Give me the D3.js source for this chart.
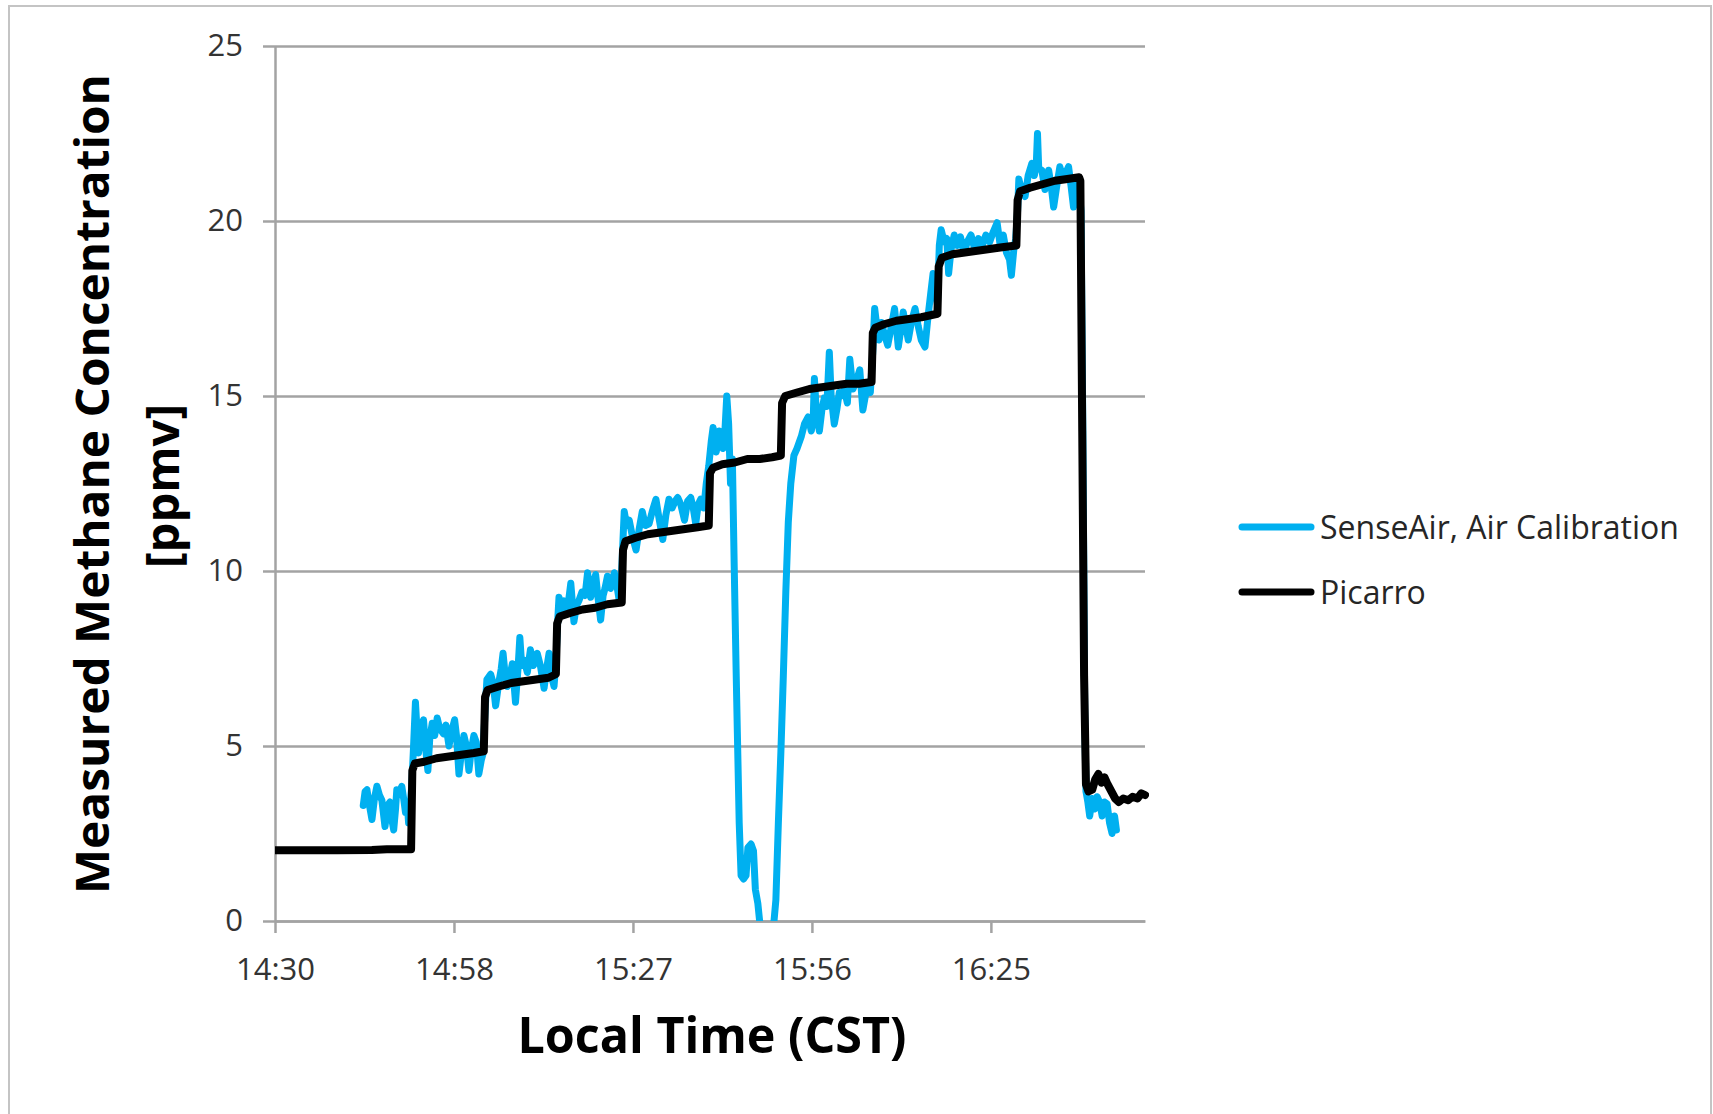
<!DOCTYPE html>
<html>
<head>
<meta charset="utf-8">
<script src="https://cdn.jsdelivr.net/npm/d3@7"></script>
<style>
  html, body { margin: 0; padding: 0; background: #ffffff; }
  svg { display: block; }
  text { font-family: "Open Sans", "Noto Sans", sans-serif; }
</style>
</head>
<body>
<svg id="chart" width="1713" height="1114"></svg>
<script>
// Methane step-calibration run, minutes after 14:30 CST and ppmv readings.
const startTime = new Date(2015, 0, 1, 14, 30, 0);
const endMinutes = 140;

const yTicks = [0, 5, 10, 15, 20, 25];
const xTickMinutes = [0, 28.8, 57.6, 86.4, 115.2];   // 0.02 day major unit

const seriesNames = ["SenseAir, Air Calibration", "Picarro"];
const seriesColors = ["#00b0f0", "#000000"];

// SenseAir sensor (air calibration)
const senseAirMin = [
  14.2, 14.5, 14.8, 15.2, 15.6, 16.0, 16.4, 16.8, 17.2, 17.7, 18.1, 18.5, 18.8, 19.1, 19.4, 19.6, 20.0, 20.4, 20.7, 21.0, 21.3, 21.5, 21.8, 22.0,
  22.3, 22.6, 22.9, 23.1, 23.5, 23.9, 24.2, 24.6, 24.9, 25.3, 25.7, 26.1, 26.5, 27.1, 27.5, 28.0, 28.4, 28.9, 29.2, 29.6, 30.0, 30.4, 30.8, 31.2, 31.6, 32.0, 32.4, 32.8, 33.2, 33.5,
  33.8, 34.1, 34.7, 35.1, 35.5, 36.0, 36.4, 36.7, 37.0, 37.4, 37.8, 38.2, 38.7, 39.1, 39.4, 39.7, 40.1, 40.6, 41.1, 41.6, 42.2, 42.7, 43.3, 43.7, 44.1, 44.5, 44.9, 45.2,
  45.5, 45.7, 46.1, 46.5, 47.0, 47.6, 48.1, 48.5, 48.9, 49.4, 49.9, 50.3, 50.8, 51.2, 51.6, 52.0, 52.4, 52.8, 53.1, 53.5, 54.0, 54.6, 55.0, 55.4, 55.7,
  56.0, 56.2, 56.6, 57.0, 57.5, 58.1, 58.6, 59.1, 59.6, 60.2, 60.7, 61.3, 61.8, 62.4, 62.9, 63.4, 63.9, 64.4, 64.8, 65.3, 65.9, 66.4, 66.9, 67.3, 67.7, 68.1, 68.5, 69.0, 69.4,
  69.8, 70.2, 70.5, 70.8, 71.0, 71.3, 71.5, 71.8, 72.1, 72.4, 72.7, 73.0, 73.3, 73.6, 73.9, 74.2, 74.4, 74.7, 75.0, 75.4, 75.8, 76.1, 76.6, 77.0, 77.3, 77.7, 78.1, 78.6, 79.4, 80.2, 80.6, 81.0, 81.4, 81.8, 82.2, 82.6, 83.0, 83.5,
  84.0, 84.7, 85.2, 85.8, 86.3, 86.6, 86.8, 87.1, 87.6, 88.0, 88.4, 88.8, 89.2, 89.5, 90.0, 90.4, 90.8, 91.1, 91.6, 92.1, 92.5, 93.0, 93.5, 94.1, 94.6, 95.0, 95.4, 95.8,
  96.2, 96.5, 96.9, 97.2, 97.6, 98.0, 98.6, 99.2, 99.7, 100.3, 100.7, 101.1, 101.5, 101.9, 102.4, 103.0, 103.5, 104.0, 104.6, 105.1, 105.5, 105.9, 106.3, 106.6,
  106.9, 107.2, 107.7, 108.1, 108.4, 108.8, 109.3, 109.8, 110.3, 110.9, 111.4, 112.0, 112.6, 113.2, 113.8, 114.4, 115.0, 115.6, 116.2, 116.7, 117.2, 117.7, 118.2, 118.5, 118.9, 119.2,
  119.5, 119.7, 120.1, 120.7, 121.2, 121.8, 122.2, 122.5, 122.7, 122.9, 123.4, 123.9, 124.5, 124.9, 125.3, 125.8, 126.3, 126.8, 127.2, 127.7, 128.1, 128.5, 129.0, 129.4,
  129.7, 130.0, 130.3, 130.5, 130.8, 131.1, 131.5, 131.9, 132.3, 132.7, 133.1, 133.5, 133.9, 134.3, 134.7, 135.1, 135.4
];
const senseAirPpm = [
  3.3, 3.7, 3.75, 3.3, 2.9, 3.5, 3.85, 3.6, 3.45, 2.7, 3.3, 3.4, 2.9, 2.6, 3.2, 3.75, 3.6, 3.85, 3.5, 3.1, 3.3, 2.8, 3.4, 3.85,
  5.0, 6.25, 5.3, 4.8, 5.5, 5.75, 5.0, 4.3, 5.2, 5.65, 5.3, 5.8, 5.5, 5.35, 5.6, 5.0, 5.4, 5.75, 5.3, 4.2, 4.8, 5.3, 5.0, 4.3, 4.9, 5.3, 5.1, 4.2, 4.6, 4.8,
  6.0, 6.9, 7.05, 6.8, 6.15, 6.8, 7.2, 7.65, 7.1, 6.7, 7.0, 7.35, 6.25, 7.2, 8.1, 7.3, 7.45, 7.1, 7.75, 7.3, 7.65, 7.3, 6.65, 7.2, 7.65, 7.0, 6.7, 7.4,
  8.6, 9.25, 8.9, 9.15, 8.8, 9.65, 8.55, 9.0, 9.15, 9.4, 9.3, 9.95, 9.25, 9.6, 9.9, 9.2, 8.6, 9.3, 9.5, 9.85, 9.5, 9.95, 9.6, 9.15, 9.6,
  10.9, 11.7, 11.3, 11.45, 11.0, 10.6, 11.2, 11.7, 11.3, 11.35, 11.7, 12.05, 11.5, 10.9, 11.6, 12.05, 11.8, 12.0, 12.1, 11.9, 11.45, 12.0, 12.1, 11.8, 11.35, 11.9, 12.05, 11.8, 12.5,
  13.0, 13.7, 14.1, 13.6, 13.4, 13.7, 14.0, 13.8, 13.5, 14.0, 15.0, 14.2, 12.5, 13.2, 10.1, 7.2, 5.4, 2.8, 1.3, 1.2, 1.3, 2.1, 2.2, 2.0, 0.9, 0.5, -0.2, -0.7, -0.8, -0.2, 0.6, 2.8, 4.8, 7.0, 9.4, 11.4, 12.5, 13.3,
  13.5, 13.85, 14.2, 14.4, 14.0, 14.3, 15.5, 14.6, 14.0, 14.6, 14.95, 14.7, 16.25, 15.0, 14.2, 14.6, 15.1, 15.0, 15.2, 14.8, 16.05, 15.2, 15.4, 15.75, 14.6, 15.0, 15.25, 15.1,
  16.3, 17.5, 16.9, 16.6, 17.1, 16.8, 16.45, 17.0, 17.5, 16.4, 16.9, 17.4, 17.0, 16.6, 17.1, 17.5, 17.0, 16.6, 16.4, 17.3, 17.9, 18.5, 18.0, 17.6,
  19.3, 19.75, 19.4, 19.5, 18.5, 19.2, 19.6, 19.3, 19.55, 19.1, 19.4, 19.6, 19.2, 19.5, 19.3, 19.6, 19.4, 19.7, 19.95, 19.3, 19.6, 19.1, 18.9, 18.45, 19.2, 19.5,
  20.3, 21.2, 20.9, 20.7, 21.3, 21.65, 21.3, 21.6, 22.5, 21.5, 21.45, 20.9, 21.45, 21.0, 20.4, 21.0, 21.55, 21.2, 21.35, 21.55, 21.0, 20.4, 21.2, 20.9,
  20.3, 14.0, 6.0, 3.7, 3.4, 3.0, 3.5, 3.2, 3.55, 3.4, 3.0, 3.4, 3.35, 2.8, 2.5, 3.0, 2.6
];

// Picarro reference analyser
const picarroMin = [
  0, 5, 10, 15.6, 18, 21.9,
  22.1, 22.5, 24, 26, 28, 30, 32, 33.6,
  33.8, 34.2, 36, 38, 40, 42, 44, 45.2,
  45.4, 45.8, 47.5, 49.5, 51.5, 53.5, 55.8,
  56.0, 56.4, 58, 60, 62, 64, 66, 68, 69.8,
  70.0, 70.5, 72, 74, 76, 78, 80, 81.4,
  81.6, 82.1, 84, 86, 88, 90, 92, 94, 96.0,
  96.2, 96.6, 98, 100, 102, 104, 106.6,
  106.8, 107.3, 109, 111, 113, 115, 117, 119.3,
  119.5, 119.9, 121.5, 123.5, 125.5, 127.5, 129.4,
  129.6, 129.9, 130.2, 130.5, 130.9, 131.5, 132.0, 132.5, 133.0, 133.5, 134.0, 134.6, 135.2, 135.8, 136.5, 137.3, 138.0, 138.8, 139.4, 140.0
];
const picarroPpm = [
  2.02, 2.02, 2.02, 2.03, 2.05, 2.05,
  4.3, 4.5, 4.55, 4.65, 4.7, 4.75, 4.8, 4.85,
  6.4, 6.6, 6.7, 6.8, 6.85, 6.9, 6.95, 7.05,
  8.5, 8.7, 8.8, 8.9, 8.95, 9.05, 9.1,
  10.6, 10.85, 10.95, 11.05, 11.1, 11.15, 11.2, 11.25, 11.3,
  12.8, 12.95, 13.05, 13.1, 13.2, 13.2, 13.25, 13.3,
  14.8, 15.0, 15.1, 15.2, 15.25, 15.3, 15.35, 15.35, 15.4,
  16.8, 16.95, 17.05, 17.15, 17.2, 17.25, 17.35,
  18.7, 18.95, 19.05, 19.1, 19.15, 19.2, 19.25, 19.3,
  20.6, 20.85, 20.95, 21.05, 21.15, 21.2, 21.25,
  21.15, 14.0, 7.0, 3.9, 3.7, 3.75, 4.05, 4.2, 3.95, 4.1, 3.9, 3.7, 3.5, 3.4, 3.5, 3.45, 3.55, 3.5, 3.65, 3.6
];

const toDate = m => new Date(startTime.getTime() + m * 60000);

const svg = d3.select("#chart");
const plot = { left: 275, right: 1145, top: 46, bottom: 921 };

const x = d3.scaleTime()
  .domain([startTime, toDate(endMinutes)])
  .range([plot.left, plot.right]);
const y = d3.scaleLinear()
  .domain([0, 25])
  .range([plot.bottom, plot.top]);

// outer frame
svg.append("rect")
  .attr("x", 9).attr("y", 6)
  .attr("width", 1702).attr("height", 1130)
  .attr("fill", "#ffffff")
  .attr("stroke", "#c4c4c4")
  .attr("stroke-width", 2);

const gridColor = "#a3a3a3";
const tickFont = "31px";

// horizontal gridlines
svg.append("g")
  .attr("transform", `translate(${plot.left},0)`)
  .call(d3.axisLeft(y).tickValues(yTicks).tickSize(-(plot.right - plot.left)).tickFormat(""))
  .call(g => g.select(".domain").remove())
  .call(g => g.selectAll(".tick line").attr("stroke", gridColor).attr("stroke-width", 2.5));

// y axis
svg.append("g")
  .attr("transform", `translate(${plot.left},0)`)
  .call(d3.axisLeft(y).tickValues(yTicks).tickSize(12).tickSizeOuter(0).tickPadding(20))
  .call(g => g.select(".domain").attr("stroke", gridColor).attr("stroke-width", 2.5))
  .call(g => g.selectAll(".tick line").attr("stroke", gridColor).attr("stroke-width", 2.5))
  .call(g => g.selectAll(".tick text")
    .attr("fill", "#333333")
    .style("font-size", tickFont)
    .style("font-family", "'Open Sans', sans-serif"));

// x axis
svg.append("g")
  .attr("transform", `translate(0,${plot.bottom})`)
  .call(d3.axisBottom(x)
    .tickValues(xTickMinutes.map(toDate))
    .tickFormat(d3.timeFormat("%H:%M"))
    .tickSize(12).tickSizeOuter(0).tickPadding(25))
  .call(g => g.select(".domain").attr("stroke", gridColor).attr("stroke-width", 2.5))
  .call(g => g.selectAll(".tick line").attr("stroke", gridColor).attr("stroke-width", 2.5))
  .call(g => g.selectAll(".tick text")
    .attr("fill", "#333333")
    .style("font-size", tickFont)
    .style("font-family", "'Open Sans', sans-serif"));

// data lines
svg.append("defs").append("clipPath").attr("id", "plot-clip")
  .append("rect")
  .attr("x", plot.left).attr("y", plot.top - 10)
  .attr("width", plot.right - plot.left + 4)
  .attr("height", plot.bottom - plot.top + 10);

const line = d3.line()
  .x(d => x(toDate(d[0])))
  .y(d => y(d[1]));

const senseAir = senseAirMin.map((m, i) => [m, senseAirPpm[i]]);
const picarro = picarroMin.map((m, i) => [m, picarroPpm[i]]);

const lines = svg.append("g").attr("clip-path", "url(#plot-clip)");
lines.append("path")
  .datum(senseAir)
  .attr("d", line)
  .attr("fill", "none")
  .attr("stroke", seriesColors[0])
  .attr("stroke-width", 7)
  .attr("stroke-linejoin", "round")
  .attr("stroke-linecap", "round");
lines.append("path")
  .datum(picarro)
  .attr("d", line)
  .attr("fill", "none")
  .attr("stroke", seriesColors[1])
  .attr("stroke-width", 8)
  .attr("stroke-linejoin", "round")
  .attr("stroke-linecap", "round");

// axis titles
svg.append("text")
  .attr("x", 712).attr("y", 1053)
  .attr("text-anchor", "middle")
  .attr("textLength", 389)
  .attr("lengthAdjust", "spacingAndGlyphs")
  .style("font-size", "51px")
  .style("font-weight", "700")
  .attr("fill", "#000")
  .text("Local Time (CST)");

svg.append("text")
  .attr("transform", "translate(109,484) rotate(-90)")
  .attr("text-anchor", "middle")
  .attr("textLength", 820)
  .attr("lengthAdjust", "spacingAndGlyphs")
  .style("font-size", "46px")
  .style("font-weight", "700")
  .attr("fill", "#000")
  .text("Measured Methane  Concentration");

svg.append("text")
  .attr("transform", "translate(179,486) rotate(-90)")
  .attr("text-anchor", "middle")
  .attr("textLength", 164)
  .attr("lengthAdjust", "spacingAndGlyphs")
  .style("font-size", "46px")
  .style("font-weight", "700")
  .attr("fill", "#000")
  .text("[ppmv]");

// legend
const legend = svg.append("g");
const legendY = [527, 592];
seriesNames.forEach((name, i) => {
  legend.append("line")
    .attr("x1", 1242).attr("x2", 1311)
    .attr("y1", legendY[i]).attr("y2", legendY[i])
    .attr("stroke", seriesColors[i])
    .attr("stroke-width", 7)
    .attr("stroke-linecap", "round");
  legend.append("text")
    .attr("x", 1320).attr("y", legendY[i])
    .attr("dy", "0.36em")
    .style("font-size", "32px")
    .attr("fill", "#262626")
    .text(name);
});
</script>
</body>
</html>
